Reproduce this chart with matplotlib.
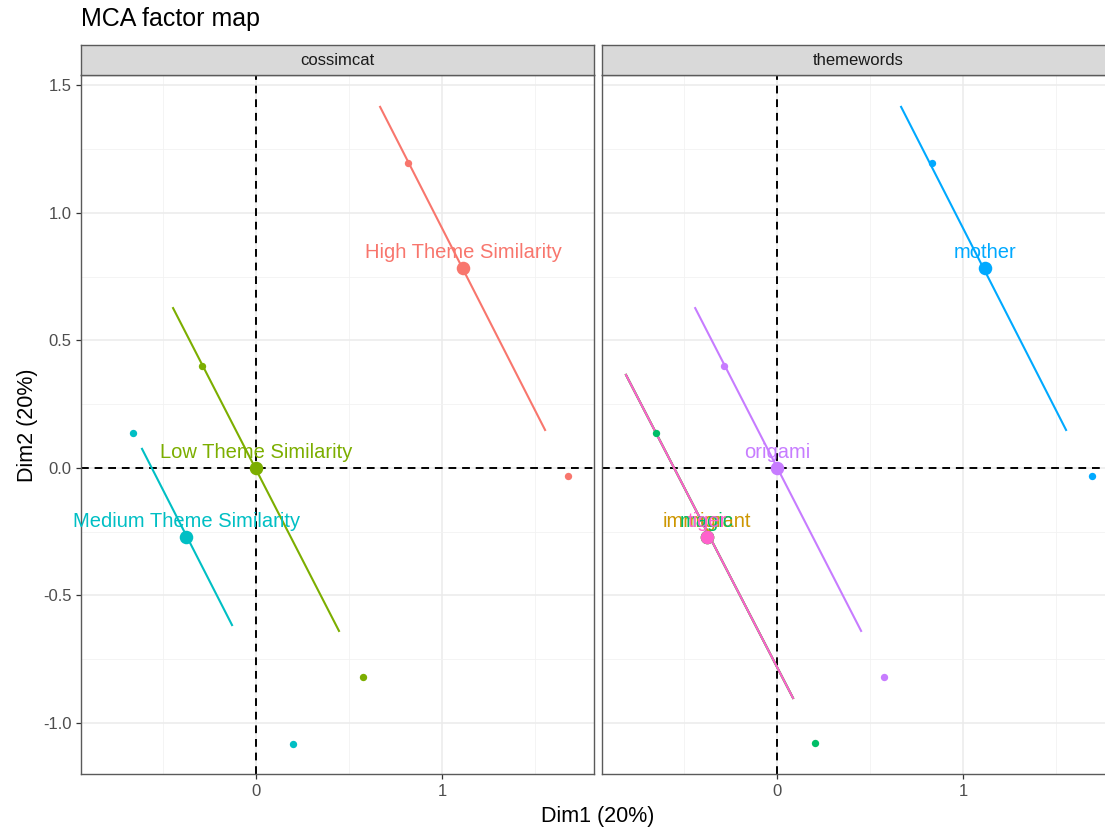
import matplotlib.pyplot as plt

plt.rcParams['font.family'] = ['Liberation Sans', 'DejaVu Sans']

# category coordinates on the first two dimensions
facets = ["cossimcat", "themewords"]

cats_left = ["High Theme Similarity", "Low Theme Similarity", "Medium Theme Similarity"]
cols_left = ["#F8766D", "#7CAE00", "#00BFC4"]
cx_left = [1.113, 0.0, -0.376]
cy_left = [0.784, 0.0, -0.270]
seg_x0_left = [0.667, -0.446, -0.613]
seg_y0_left = [1.416, 0.627, 0.075]
seg_x1_left = [1.554, 0.446, -0.129]
seg_y1_left = [0.149, -0.639, -0.616]
sup_x_left = [[0.817, 1.677], [-0.290, 0.575], [-0.661, 0.199]]
sup_y_left = [[1.196, -0.031], [0.400, -0.820], [0.137, -1.082]]

cats_right = ["mother", "origami", "immigrant", "magic", "tiger"]
cols_right = ["#00A9FF", "#C77CFF", "#CD9600", "#00BE67", "#FF61CC"]
cx_right = [1.118, 0.0, -0.376, -0.376, -0.376]
cy_right = [0.784, 0.0, -0.270, -0.270, -0.270]
seg_x0_right = [0.667, -0.440, -0.812, -0.812, -0.812]
seg_y0_right = [1.416, 0.627, 0.365, 0.365, 0.365]
seg_x1_right = [1.554, 0.452, 0.086, 0.086, 0.086]
seg_y1_right = [0.149, -0.639, -0.902, -0.902, -0.902]
sup_x_right = [[0.831, 1.691], [-0.285, 0.575], [], [-0.650, 0.204], []]
sup_y_right = [[1.196, -0.031], [0.400, -0.820], [], [0.137, -1.080], []]

W, H = 1105, 830
fig = plt.figure(figsize=(W / 100, H / 100), dpi=100)

def px(x0, y0, w, h):
    return [x0 / W, (H - y0 - h) / H, w / W, h / H]

panel_w, panel_top, panel_h = 513, 75, 699
lefts = [81, 602]
border = '#5A5A5A'

def draw_panel(ax, cats, cols, cx, cy, sx0, sy0, sx1, sy1, supx, supy, show_y):
    ax.set_xlim(-0.941, 1.817)
    ax.set_ylim(-1.2, 1.541)
    ax.set_xticks([0, 1])
    ax.set_xticks([-0.5, 0.5, 1.5], minor=True)
    ax.set_yticks([-1.0, -0.5, 0.0, 0.5, 1.0, 1.5])
    ax.set_yticks([-0.75, -0.25, 0.25, 0.75, 1.25], minor=True)
    ax.grid(which='major', color='#EBEBEB', linewidth=1.1)
    ax.grid(which='minor', color='#F2F2F2', linewidth=0.6)
    ax.set_axisbelow(True)
    ax.tick_params(which='major', length=3.5, width=0.9, color='#333333',
                   labelsize=12, labelcolor='#4D4D4D')
    ax.tick_params(which='minor', length=0)
    if show_y:
        ax.set_yticklabels(["-1.0", "-0.5", "0.0", "0.5", "1.0", "1.5"])
    else:
        ax.tick_params(axis='y', which='both', left=False, labelleft=False)
    for s in ax.spines.values():
        s.set_color(border)
        s.set_linewidth(1.0)
    ax.axhline(0, color='black', linestyle=(0, (4, 3)), linewidth=1.4, zorder=2)
    ax.axvline(0, color='black', linestyle=(0, (4, 3)), linewidth=1.4, zorder=2)
    for i in range(len(cats)):
        ax.plot([sx0[i], sx1[i]], [sy0[i], sy1[i]], color=cols[i], linewidth=1.5, zorder=3)
    for i in range(len(cats)):
        if supx[i]:
            ax.scatter(supx[i], supy[i], s=28, color=cols[i], linewidths=0, zorder=4)
    for i in range(len(cats)):
        ax.scatter([cx[i]], [cy[i]], s=95, color=cols[i], linewidths=0, zorder=5)
    for i in range(len(cats)):
        t = ax.annotate(cats[i], (cx[i], cy[i]), xytext=(0, 11.2), textcoords='offset points',
                        ha='center', va='center', color=cols[i], fontsize=14.5, zorder=6)
        t.set_clip_on(True)

ax1 = fig.add_axes(px(lefts[0], panel_top, panel_w, panel_h))
draw_panel(ax1, cats_left, cols_left, cx_left, cy_left, seg_x0_left, seg_y0_left,
           seg_x1_left, seg_y1_left, sup_x_left, sup_y_left, True)
ax2 = fig.add_axes(px(lefts[1], panel_top, panel_w, panel_h))
draw_panel(ax2, cats_right, cols_right, cx_right, cy_right, seg_x0_right, seg_y0_right,
           seg_x1_right, seg_y1_right, sup_x_right, sup_y_right, False)

# facet strips
for left, name in zip(lefts, facets):
    sax = fig.add_axes(px(left, 45, panel_w, 30))
    sax.set_facecolor('#D9D9D9')
    sax.set_xticks([])
    sax.set_yticks([])
    for s in sax.spines.values():
        s.set_color(border)
        s.set_linewidth(1.0)
    sax.text(0.5, 0.47, name, ha='center', va='center', fontsize=12,
             color='#1A1A1A', transform=sax.transAxes)

fig.text(81 / W, 1 - 19 / H, "MCA factor map", ha='left', va='center', fontsize=18)
fig.text(598 / W, 1 - 816 / H, "Dim1 (20%)", ha='center', va='center', fontsize=15.5)
fig.text(28 / W, 1 - 425 / H, "Dim2 (20%)", ha='center', va='center', fontsize=15.5,
         rotation=90)

fig.savefig("out.png", dpi=100)
